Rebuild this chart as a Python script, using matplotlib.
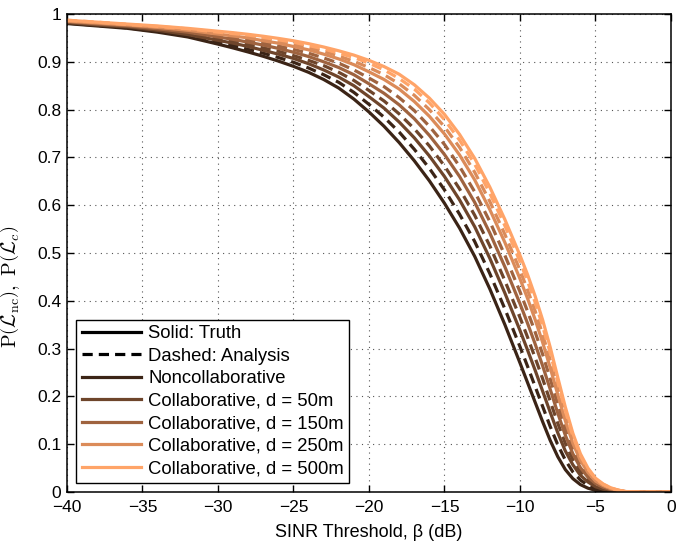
import matplotlib
matplotlib.use("Agg")
import matplotlib.pyplot as plt
from matplotlib.lines import Line2D

plt.rcParams['font.family'] = ['Liberation Sans', 'DejaVu Sans']
plt.rcParams['mathtext.fontset'] = 'cm'

# SINR threshold (dB)
beta_db = [-40, -38, -36, -34, -32, -30, -29, -28, -27, -26, -25, -24, -23, -22, -21, -20,
           -19, -18, -17, -16, -15, -14, -13, -12, -11, -10, -9.5, -9, -8.5, -8, -7.5, -7,
           -6.5, -6, -5.5, -5, -4.5, -4, -3.5, -3, -2, 0]

# Solid: truth, Dashed: analysis
noncollab_truth = [.980, .975, .970, .962, .952, .937, .929, .9205, .9115, .9015, .8905, .878, .863, .845, .822, .795,
                   .765, .731, .693, .651, .604, .552, .493, .425, .350, .270, .229, .188, .147, .108, .074, .047,
                   .028, .0155, .008, .0035, .0013, .0004, .0001, 0, 0, 0]
noncollab_anal = [.981, .976, .971, .964, .955, .941, .934, .926, .918, .909, .899, .887, .873, .857, .836, .811,
                  .784, .753, .717, .677, .632, .581, .524, .457, .383, .304, .263, .221, .179, .137, .099, .067,
                  .042, .025, .014, .007, .0037, .0017, .0007, .0002, 0, 0]
c50_truth = [.982, .977, .973, .966, .957, .945, .939, .932, .924, .916, .907, .896, .883, .868, .850, .827,
             .803, .774, .741, .703, .660, .611, .555, .489, .416, .338, .297, .255, .211, .167, .124, .086,
             .057, .035, .021, .011, .006, .003, .0013, .0003, 0, 0]
c50_anal = [.983, .978, .974, .967, .960, .948, .942, .936, .929, .922, .913, .903, .892, .878, .861, .840,
            .818, .791, .760, .724, .682, .634, .579, .515, .442, .365, .324, .281, .237, .190, .144, .102,
            .068, .043, .026, .014, .0079, .004, .0018, .0004, 0, 0]
c150_truth = [.984, .979, .975, .969, .962, .952, .947, .941, .935, .928, .920, .911, .900, .888, .873, .854,
              .834, .810, .781, .746, .706, .660, .606, .542, .471, .394, .353, .310, .264, .215, .165, .119,
              .080, .051, .031, .018, .0099, .0051, .0023, .0006, 0, 0]
c150_anal = [.985, .980, .976, .971, .964, .955, .950, .945, .939, .933, .926, .918, .908, .897, .883, .866,
             .848, .825, .798, .765, .727, .681, .628, .566, .495, .419, .378, .335, .288, .237, .184, .134,
             .091, .058, .036, .020, .0117, .0061, .0027, .0007, 0, 0]
c250_truth = [.985, .981, .977, .972, .966, .958, .954, .950, .944, .939, .932, .925, .916, .906, .894, .879,
              .863, .843, .817, .786, .749, .705, .653, .591, .522, .446, .405, .361, .313, .260, .204, .149,
              .102, .066, .041, .023, .0135, .0071, .0032, .0008, 0, 0]
c250_anal = [.986, .982, .978, .973, .967, .960, .957, .953, .948, .942, .937, .930, .922, .912, .901, .888,
             .873, .854, .830, .800, .764, .721, .669, .608, .539, .464, .423, .379, .330, .276, .217, .160,
             .110, .071, .044, .025, .0148, .0078, .0035, .0009, 0, 0]
c500_truth = [.987, .983, .979, .975, .970, .964, .961, .9575, .9535, .949, .944, .938, .931, .923, .914, .903,
              .890, .874, .852, .824, .790, .748, .698, .638, .570, .495, .455, .410, .360, .303, .240, .178,
              .123, .080, .050, .029, .017, .009, .004, .001, 0, 0]
c500_anal = [.987, .983, .978, .974, .969, .962, .959, .956, .951, .946, .941, .934, .927, .918, .909, .897,
             .883, .865, .843, .814, .779, .736, .686, .625, .557, .482, .441, .397, .347, .291, .230, .170,
             .117, .076, .048, .028, .0161, .0085, .0039, .0009, 0, 0]

labels = ['Noncollaborative', 'Collaborative, d = 50m', 'Collaborative, d = 150m',
          'Collaborative, d = 250m', 'Collaborative, d = 500m']
colors = ['#3b2416', '#6e452b', '#9f633f', '#db8b59', '#ffa468']
truth = [noncollab_truth, c50_truth, c150_truth, c250_truth, c500_truth]
anal = [noncollab_anal, c50_anal, c150_anal, c250_anal, c500_anal]

fig = plt.figure(figsize=(6.76, 5.43), dpi=100)
ax = fig.add_axes([0.0991, 0.0939, 0.8935, 0.8803])

lw = 2.3
dash = (3.2, 1.9)
for t, a, c in zip(truth, anal, colors):
    ax.plot(beta_db, t, color=c, lw=lw, solid_capstyle='butt', solid_joinstyle='round')
    ax.plot(beta_db, a, color=c, lw=lw, dashes=dash, dash_capstyle='butt')

ax.set_xlim(-40, 0)
ax.set_ylim(0, 1)
ax.set_xticks(range(-40, 1, 5))
ax.set_yticks([i / 10 for i in range(11)])
ax.set_yticklabels(['0', '0.1', '0.2', '0.3', '0.4', '0.5', '0.6', '0.7', '0.8', '0.9', '1'])
ax.set_xticklabels(['\u221240', '\u221235', '\u221230', '\u221225', '\u221220', '\u221215',
                    '\u221210', '\u22125', '0'])
ax.tick_params(direction='in', length=5, width=1, top=True, right=True, labelsize=12.5)
ax.tick_params(axis='x', pad=6)
ax.tick_params(axis='y', pad=4)
for s in ax.spines.values():
    s.set_linewidth(1.1)
ax.grid(True, linestyle=(0, (1, 4)), color='#555555', lw=0.8)
ax.set_axisbelow(True)

ax.set_xlabel('SINR Threshold, \u03b2 (dB)', fontsize=13, labelpad=6)
ax.set_ylabel(r'$\mathrm{P}\left(\mathcal{L}_{\mathrm{nc}}\right),\ \mathrm{P}\left(\mathcal{L}_{c}\right)$',
              fontsize=14.5, labelpad=4)
ax.yaxis.set_label_coords(-0.075, 0.43)

handles = [Line2D([], [], color='black', lw=lw),
           Line2D([], [], color='black', lw=lw, dashes=dash)]
handles += [Line2D([], [], color=c, lw=lw) for c in colors]
leg_labels = ['Solid: Truth', 'Dashed: Analysis'] + labels
leg = ax.legend(handles, leg_labels, loc='lower left', bbox_to_anchor=(0.015, 0.019),
                fontsize=13.3, handlelength=3.2, handletextpad=0.4, labelspacing=0.3,
                borderpad=0.3, borderaxespad=0, fancybox=False, framealpha=1,
                edgecolor='black')
leg.get_frame().set_linewidth(1.0)

fig.savefig('out.png', dpi=100)
